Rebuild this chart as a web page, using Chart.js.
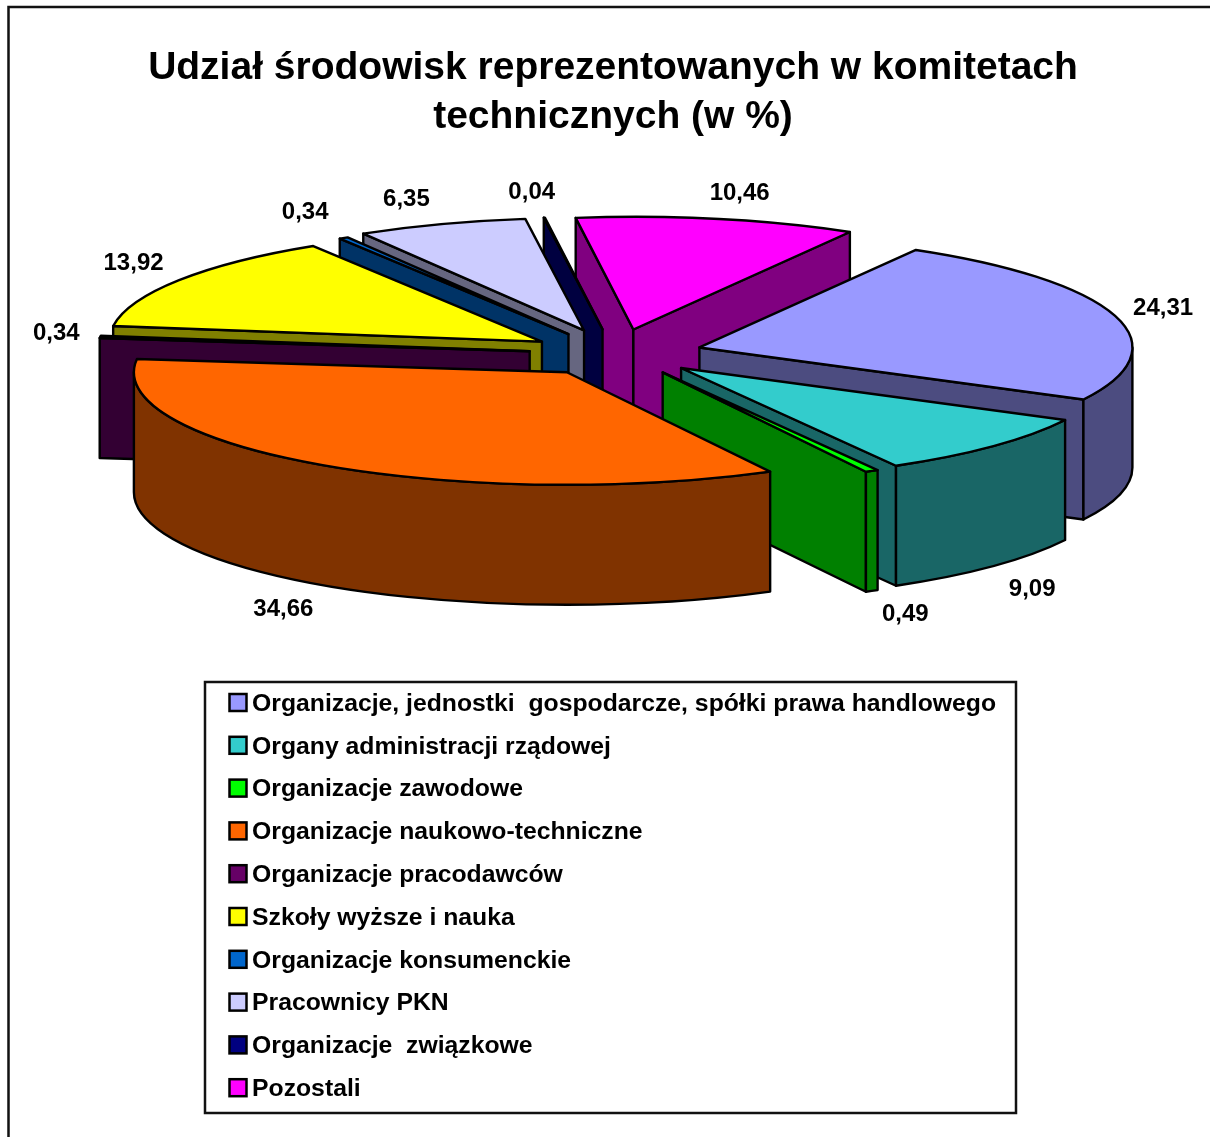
<!DOCTYPE html>
<html lang="pl">
<head>
<meta charset="utf-8">
<title>Udział środowisk</title>
<style>html,body{margin:0;padding:0;background:#fff}canvas{display:block}</style>
<script src="https://cdn.jsdelivr.net/npm/chart.js@4"></script>
</head>
<body>
<canvas id="c" width="1210" height="1137"></canvas>
<script>
const categories = [
  "Organizacje, jednostki  gospodarcze, spółki prawa handlowego",
  "Organy administracji rządowej",
  "Organizacje zawodowe",
  "Organizacje naukowo-techniczne",
  "Organizacje pracodawców",
  "Szkoły wyższe i nauka",
  "Organizacje konsumenckie",
  "Pracownicy PKN",
  "Organizacje  związkowe",
  "Pozostali"
];
const shares = [24.31, 9.09, 0.49, 34.66, 0.34, 13.92, 0.34, 6.35, 0.04, 10.46];
const titleLines = ["Udział środowisk reprezentowanych w komitetach", "technicznych (w %)"];
const topColors = ["#9999FF", "#33CCCC", "#00FF00", "#FF6600", "#660066", "#FFFF00", "#0066CC", "#CCCCFF", "#000080", "#FF00FF"];
const wallColors = ["#4C4C80", "#196666", "#008000", "#803300", "#330033", "#808000", "#003366", "#666680", "#000040", "#800080"];
const explode = [90, 100, 107, 71, 80, 80, 80, 100, 100, 100];
const explodeTrim = [[5,0],[1,-4],[3,-6],[-1,3],[1,0],[1,-1],[2,-2],[9,1],[8,1],[6,1]];
const paintOrder = [9, 8, 7, 6, 5, 4, 0, 1, 2, 3];
const labelNudge = [[48,-8],[39,23.5],[33.5,23.6],[-39,24],[-44,-3.4],[-45.5,-17],[-38.5,-25.6],[-35,-25],[-12.6,-25],[22.4,-26]];

const FONT = '"Liberation Sans", Arial, sans-serif';
const TILT = 0.26, DEPTH = 120, PIE_SHIFT = -5;

function drawPie(chart) {
  const ctx = chart.ctx;
  const arcs = chart.getDatasetMeta(0).data;
  const geo = arcs.map((arc, i) => {
    const mid = (arc.startAngle + arc.endAngle) / 2, off = arc.options.offset;
    return {
      arc, mid,
      ax: arc.x + PIE_SHIFT + Math.cos(mid) * off + explodeTrim[i][0],
      ay: arc.y + Math.sin(mid) * off * TILT + explodeTrim[i][1],
      r: arc.outerRadius
    };
  });
  ctx.save();
  ctx.lineWidth = 2.4;
  ctx.lineJoin = 'round';
  ctx.strokeStyle = '#000';
  const paint = (fill) => { ctx.fillStyle = fill; ctx.fill(); ctx.stroke(); };
  const edge = (g, a) => [g.ax + g.r * Math.cos(a), g.ay + g.r * TILT * Math.sin(a)];
  const radialWall = (g, a, fill) => {
    const p = edge(g, a);
    ctx.beginPath();
    ctx.moveTo(g.ax, g.ay);
    ctx.lineTo(p[0], p[1]);
    ctx.lineTo(p[0], p[1] + DEPTH);
    ctx.lineTo(g.ax, g.ay + DEPTH);
    ctx.closePath();
    paint(fill);
  };
  paintOrder.forEach(i => {
    const g = geo[i], a0 = g.arc.startAngle, a1 = g.arc.endAngle, wall = wallColors[i];
    if (Math.sin(a0 - Math.PI / 2) > 0) radialWall(g, a0, wall);
    if (Math.sin(a1 + Math.PI / 2) > 0) radialWall(g, a1, wall);
    const s = Math.max(a0, 0), e = Math.min(a1, Math.PI);
    if (e > s) {
      ctx.beginPath();
      ctx.ellipse(g.ax, g.ay, g.r, g.r * TILT, 0, s, e);
      ctx.ellipse(g.ax, g.ay + DEPTH, g.r, g.r * TILT, 0, e, s, true);
      ctx.closePath();
      paint(wall);
    }
    ctx.beginPath();
    ctx.moveTo(g.ax, g.ay);
    ctx.ellipse(g.ax, g.ay, g.r, g.r * TILT, 0, a0, a1);
    ctx.closePath();
    paint(g.arc.options.backgroundColor);
  });
  ctx.fillStyle = '#000';
  ctx.font = 'bold 24px ' + FONT;
  ctx.textAlign = 'center';
  ctx.textBaseline = 'middle';
  geo.forEach((g, i) => {
    const p = edge(g, g.mid);
    const front = Math.sin(g.mid) > 0 ? DEPTH : 0;
    ctx.fillText(shares[i].toFixed(2).replace('.', ','), p[0] + labelNudge[i][0], p[1] + front + labelNudge[i][1]);
  });
  ctx.restore();
}

function drawLegend(chart) {
  const ctx = chart.ctx;
  const left = 205, top = 682, w = 811, h = 431, first = 702.5, step = 42.8;
  ctx.save();
  ctx.lineWidth = 2.5;
  ctx.strokeStyle = '#111';
  ctx.strokeRect(left, top, w, h);
  ctx.font = 'bold 24.75px ' + FONT;
  ctx.textBaseline = 'middle';
  ctx.textAlign = 'left';
  categories.forEach((label, i) => {
    const y = first + i * step;
    ctx.fillStyle = topColors[i];
    ctx.fillRect(229.5, y - 8.5, 17, 17);
    ctx.lineWidth = 2.5;
    ctx.strokeStyle = '#000';
    ctx.strokeRect(229.5, y - 8.5, 17, 17);
    ctx.fillStyle = '#000';
    ctx.fillText(label, 252, y + 1.5);
  });
  ctx.restore();
}

const scenePlugin = {
  id: 'scene',
  beforeDraw(chart) {
    const ctx = chart.ctx;
    ctx.save();
    ctx.fillStyle = '#fff';
    ctx.fillRect(0, 0, chart.width, chart.height);
    ctx.strokeStyle = '#111';
    ctx.lineWidth = 2.5;
    ctx.beginPath();
    ctx.moveTo(8.5, chart.height);
    ctx.lineTo(8.5, 7);
    ctx.lineTo(chart.width, 7);
    ctx.stroke();
    ctx.restore();
  },
  beforeDatasetsDraw(chart) {
    drawPie(chart);
    drawLegend(chart);
    return false;
  }
};

new Chart(document.getElementById('c'), {
  type: 'pie',
  data: {
    labels: categories,
    datasets: [{ data: shares, backgroundColor: topColors, offset: explode, borderWidth: 0 }]
  },
  options: {
    responsive: false,
    animation: false,
    rotation: 30,
    radius: 433,
    layout: { padding: { left: 16, right: 0, top: 0, bottom: 571 } },
    plugins: {
      legend: { display: false },
      tooltip: { enabled: false },
      title: {
        display: true,
        text: titleLines,
        color: '#000',
        font: { family: FONT, size: 39, weight: 'bold', lineHeight: 1.256 },
        padding: { top: 44, bottom: 0 }
      }
    }
  },
  plugins: [scenePlugin]
});
</script>
</body>
</html>
